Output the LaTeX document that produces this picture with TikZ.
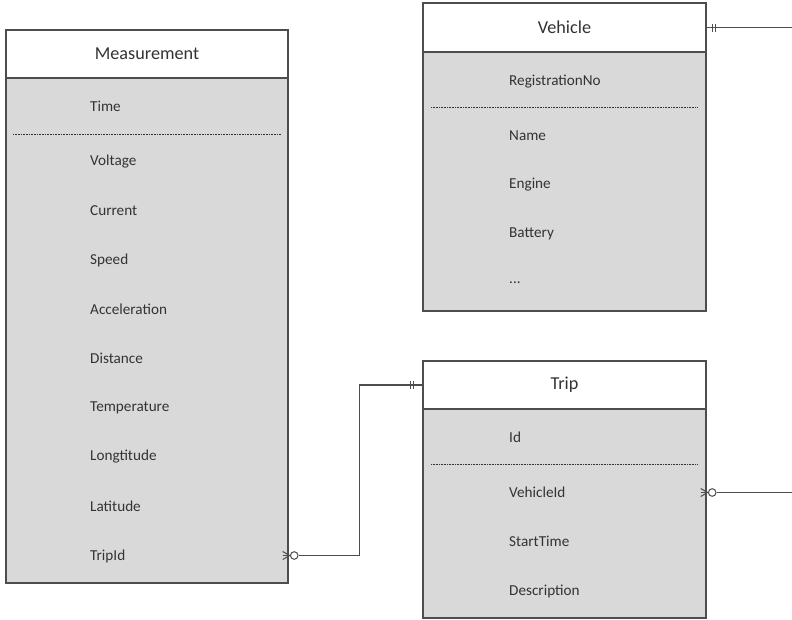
\documentclass[tikz,border=0pt]{standalone}
\usepackage{fontspec}
\setmainfont{Carlito}
\definecolor{bodyfill}{HTML}{D9D9D9}
\definecolor{edge}{HTML}{4D4D4D}
\definecolor{txt}{HTML}{333333}
\begin{document}
\begin{tikzpicture}[x=1pt,y=-1pt,
  hdr/.style={draw=edge, line width=1.4pt, fill=white, inner sep=0pt, text=txt, font=\fontsize{18.2}{21}\selectfont},
  tbody/.style={draw=edge, line width=1.4pt, fill=bodyfill, inner sep=0pt},
  attr/.style={anchor=west, inner sep=0pt, text=txt, font=\fontsize{15.2}{18}\selectfont},
  sep/.style={draw=txt, line width=0.6pt, dash pattern=on 0.8pt off 0.8pt},
  conn/.style={draw=edge, line width=1.4pt},
  notch/.style={draw=edge, line width=1pt}
]
\useasboundingbox (0,0) rectangle (792,619);
% Measurement
\node[tbody, minimum width=282pt, minimum height=505pt] (mb) at (147,330.5) {};
\node[hdr, minimum width=282pt, minimum height=48pt] (mh) at (147,54) {Measurement};
\node[attr] (mtime) at (90,106) {Time};
\draw[sep] (13,134) -- (281,134);
\node[attr] (mvolt) at (90,162) {Voltage};
\node[attr] (mcur) at (90,211) {Current};
\node[attr] (mspd) at (90,260) {Speed};
\node[attr] (macc) at (90,309) {Acceleration};
\node[attr] (mdist) at (90,358) {Distance};
\node[attr] (mtemp) at (90,408) {Temperature};
\node[attr] (mlon) at (90,457) {Longtitude};
\node[attr] (mlat) at (90,506) {Latitude};
\node[attr] (mtrip) at (90,556) {TripId};
% Vehicle
\node[tbody, minimum width=283pt, minimum height=259pt] (vb) at (564.5,181.5) {};
\node[hdr, minimum width=283pt, minimum height=49pt] (vh) at (564.5,27.5) {Vehicle};
\node[attr] (vreg) at (509,82) {RegistrationNo};
\draw[sep] (431,107) -- (698,107);
\node[attr] (vname) at (509,136) {Name};
\node[attr] (veng) at (509,185) {Engine};
\node[attr] (vbat) at (509,234) {Battery};
\node[attr] (vdots) at (509,283) {...};
% Trip
\node[tbody, minimum width=283pt, minimum height=209pt] (tb) at (564.5,513.5) {};
\node[hdr, minimum width=283pt, minimum height=48pt] (th) at (564.5,385) {Trip};
\node[attr] (tid) at (509,437) {Id};
\draw[sep] (431,464) -- (698,464);
\node[attr] (tvid) at (509,492) {VehicleId};
\node[attr] (tstart) at (509,541) {StartTime};
\node[attr] (tdesc) at (509,591) {Description};
% connectors
\coordinate (vend) at (792,27.5);
\coordinate (tend) at (792,492.5);
\draw[conn] (vh.east) -- (vend);
\draw[notch] ([xshift=6pt]vh.east) ++(0,-4) -- ++(0,8);
\draw[notch] ([xshift=9pt]vh.east) ++(0,-4) -- ++(0,8);
% Measurement -> Trip
\draw[conn] ([xshift=10pt]mb.east |- 0,555.5) -- ++(61,0) |- (th.west);
\draw[notch] ([xshift=-12pt]th.west) ++(0,-4) -- ++(0,8);
\draw[notch] ([xshift=-9pt]th.west) ++(0,-4) -- ++(0,8);
\draw[notch] (mb.east |- 0,555.5) ++(-6,-4) -- ++(7,4) -- ++(-7,4);
\draw[notch] (mb.east |- 0,555.5) ++(-6,0) -- ++(7,0);
\draw[notch, fill=white] ([xshift=5.5pt]mb.east |- 0,555.5) circle (3.8pt);
% Trip -> Vehicle
\draw[conn] ([xshift=10pt]tb.east |- tend) -- (tend);
\draw[notch] (tb.east |- tend) ++(-6,-4) -- ++(7,4) -- ++(-7,4);
\draw[notch] (tb.east |- tend) ++(-6,0) -- ++(7,0);
\draw[notch, fill=white] ([xshift=5.5pt]tb.east |- tend) circle (3.8pt);
\end{tikzpicture}
\end{document}
